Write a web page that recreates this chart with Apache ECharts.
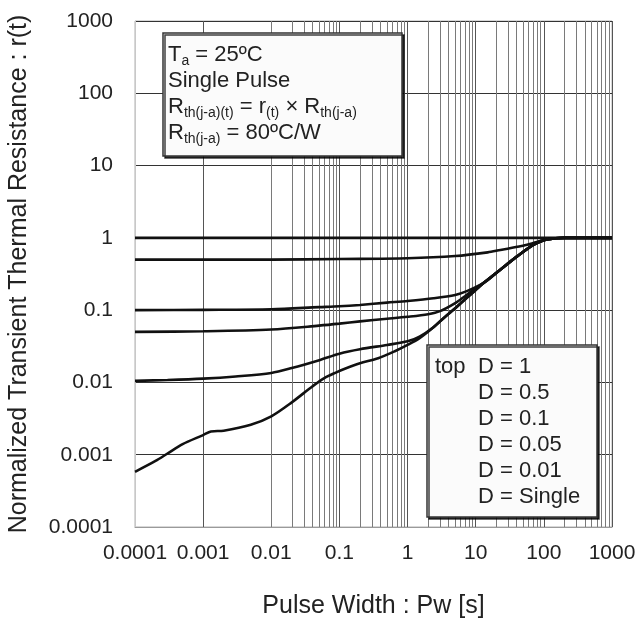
<!DOCTYPE html>
<html>
<head>
<meta charset="utf-8">
<script src="https://cdn.jsdelivr.net/npm/echarts@6/dist/echarts.min.js"></script>
<style>
html,body{margin:0;padding:0;background:#fff;}
#chart{width:637px;height:624px;}
</style>
</head>
<body>
<div id="chart"></div>
<script>
// ---- data ----
const xTickLabels = ['0.0001','0.001','0.01','0.1','1','10','100','1000'];
const yTickLabels = ['0.0001','0.001','0.01','0.1','1','10','100','1000'];

const d1X = [0.0001, 1000];
const d1Y = [1, 1];

const d05X = [0.0001, 0.01, 0.1, 1, 5, 15, 23, 47, 70, 100, 150, 200, 1000];
const d05Y = [0.5, 0.5, 0.51, 0.522, 0.56, 0.63, 0.68, 0.77, 0.85, 0.93, 0.985, 1, 1];

const d01X = [0.0001, 0.001, 0.01, 0.05, 0.1, 0.2, 0.5, 1, 2.4, 5, 7.4, 11.6, 15, 22.7, 40, 70, 100, 150, 200, 1000];
const d01Y = [0.1, 0.101, 0.103, 0.11, 0.113, 0.118, 0.127, 0.134, 0.146, 0.162, 0.183, 0.224, 0.26, 0.36, 0.55, 0.8, 0.93, 0.985, 1, 1];

const d005X = [0.0001, 0.001, 0.01, 0.05, 0.1, 0.2, 0.5, 1, 2, 3, 5, 7, 10, 13, 22.7, 40, 70, 100, 150, 200, 1000];
const d005Y = [0.05, 0.051, 0.054, 0.061, 0.065, 0.07, 0.076, 0.081, 0.088, 0.097, 0.125, 0.157, 0.2, 0.238, 0.36, 0.55, 0.8, 0.93, 0.985, 1, 1];

const d001X = [0.0001, 0.0003, 0.001, 0.003, 0.01, 0.02, 0.052, 0.1, 0.2, 0.5, 1, 1.5, 2.4, 3.5, 5, 7.4, 10, 12.9, 22.7, 40, 70, 100, 150, 200, 1000];
const d001Y = [0.0105, 0.0108, 0.0113, 0.0121, 0.0135, 0.0158, 0.0205, 0.025, 0.0288, 0.033, 0.037, 0.043, 0.058, 0.08, 0.106, 0.148, 0.19, 0.235, 0.36, 0.55, 0.8, 0.93, 0.985, 1, 1];

const singleX = [0.0001, 0.0002, 0.0003, 0.0005, 0.001, 0.0013, 0.002, 0.005, 0.01, 0.02, 0.04, 0.06, 0.09, 0.12, 0.2, 0.37, 0.65, 1, 1.5, 2.4, 3.5, 5, 7.4, 10, 12.9, 22.7, 40, 70, 100, 150, 200, 1000];
const singleY = [0.00058, 0.00082, 0.00104, 0.0014, 0.00187, 0.0021, 0.00215, 0.0026, 0.0034, 0.0053, 0.0088, 0.0115, 0.0138, 0.0155, 0.0184, 0.0216, 0.027, 0.033, 0.041, 0.058, 0.08, 0.106, 0.148, 0.19, 0.235, 0.36, 0.55, 0.8, 0.93, 0.985, 1, 1];

const seriesNames = ['D = 1', 'D = 0.5', 'D = 0.1', 'D = 0.05', 'D = 0.01', 'D = Single'];

// ---- build ----
function pairs(xs, ys){ return xs.map((x,i)=>[x, ys[i]]); }
const allSeries = [[d1X,d1Y],[d05X,d05Y],[d01X,d01Y],[d005X,d005Y],[d001X,d001Y],[singleX,singleY]];

const minorX = [];
for (let e = -4; e < 3; e++) {
  for (let m = 2; m <= 9; m++) minorX.push(m * Math.pow(10, e));
}
function decadeLabel(arr){
  return function(v){
    const i = Math.round(Math.log10(v)) + 4;
    return arr[i] !== undefined ? arr[i] : '';
  };
}

const FONT = 'Liberation Sans, Arial, sans-serif';
const chart = echarts.init(document.getElementById('chart'), null, {renderer:'canvas'});

const series = allSeries.map((s, i) => ({
  name: seriesNames[i],
  type: 'line',
  data: pairs(s[0], s[1]),
  showSymbol: false,
  symbol: 'none',
  smooth: 0.3,
  clip: true,
  lineStyle: {color: '#111', width: 2.6},
  silent: true,
  animation: false,
  z: 3
}));

series.push({
  name: 'minorgrid',
  type: 'line',
  data: [],
  symbol: 'none',
  silent: true,
  animation: false,
  z: 1,
  markLine: {
    silent: true,
    animation: false,
    z: 1,
    symbol: ['none','none'],
    label: {show: false},
    lineStyle: {color: '#7a7a7a', width: 1, type: 'solid'},
    emphasis: {disabled: true},
    data: minorX.map(v => ({xAxis: v}))
  }
});

const option = {
  backgroundColor: '#ffffff',
  animation: false,
  grid: {left: 135, right: 25, top: 21, bottom: 97, outerBoundsMode: 'none', containLabel: false, show: true, borderColor: '#b0b0b0', borderWidth: 1, backgroundColor: 'transparent'},
  xAxis: {
    type: 'log', logBase: 10, min: 0.0001, max: 1000, interval: 1,
    name: 'Pulse Width : Pw [s]', nameLocation: 'middle', nameGap: 67,
    nameTextStyle: {fontFamily: FONT, fontSize: 25, color: '#222'},
    axisLine: {show: true, lineStyle: {color: '#9a9a9a', width: 1}},
    axisTick: {show: false},
    axisLabel: {fontFamily: FONT, fontSize: 21, color: '#222', margin: 16, formatter: decadeLabel(xTickLabels), hideOverlap: false},
    splitLine: {show: true, lineStyle: {color: '#555', width: 1}},
    minorTick: {show: false}, minorSplitLine: {show: false}
  },
  yAxis: {
    type: 'log', logBase: 10, min: 0.0001, max: 1000, interval: 1,
    name: 'Normalized Transient Thermal Resistance : r(t)', nameLocation: 'middle', nameGap: 103,
    nameTextStyle: {fontFamily: FONT, fontSize: 25, color: '#222'},
    axisLine: {show: true, lineStyle: {color: '#c8c8c8', width: 1}},
    axisTick: {show: false},
    axisLabel: {fontFamily: FONT, fontSize: 21, color: '#222', margin: 22, formatter: decadeLabel(yTickLabels)},
    splitLine: {show: true, lineStyle: {color: '#333', width: 1.2}}
  },
  series: series,
  graphic: [
    {
      type: 'rect', z: 100, silent: true,
      shape: {x: 163, y: 33, width: 239, height: 123},
      style: {fill: '#fbfbfb', stroke: '#333', lineWidth: 1.5, shadowColor: 'rgba(0,0,0,0.75)', shadowOffsetX: 2, shadowOffsetY: 2, shadowBlur: 0}
    },
    {
      type: 'text', z: 101, silent: true, x: 168, y: 42,
      style: {
        text: '{m|T}{s|a}{m| = 25ºC}\n{m|Single Pulse}\n{m|R}{s|th(j-a)(t)}{m| = r}{s|(t)}{m| × R}{s|th(j-a)}\n{m|R}{s|th(j-a)}{m| = 80ºC/W}',
        verticalAlign: 'top', align: 'left',
        rich: {
          m: {fontFamily: FONT, fontSize: 22, lineHeight: 26, fill: '#222', color: '#222'},
          s: {fontFamily: FONT, fontSize: 14, lineHeight: 10, verticalAlign: 'bottom', fill: '#222', color: '#222'}
        }
      }
    },
    {
      type: 'rect', z: 100, silent: true,
      shape: {x: 427, y: 345, width: 170, height: 172},
      style: {fill: '#fbfbfb', stroke: '#333', lineWidth: 1.5, shadowColor: 'rgba(0,0,0,0.75)', shadowOffsetX: 2, shadowOffsetY: 2, shadowBlur: 0}
    },
    {
      type: 'text', z: 101, silent: true, x: 435, y: 354,
      style: {text: 'top', fontFamily: FONT, fontSize: 22, fill: '#222', verticalAlign: 'top', lineHeight: 26}
    },
    {
      type: 'text', z: 101, silent: true, x: 478, y: 354,
      style: {text: seriesNames.join('\n'), fontFamily: FONT, fontSize: 22, fill: '#222', verticalAlign: 'top', lineHeight: 26}
    }
  ]
};
chart.setOption(option);
</script>
</body>
</html>
